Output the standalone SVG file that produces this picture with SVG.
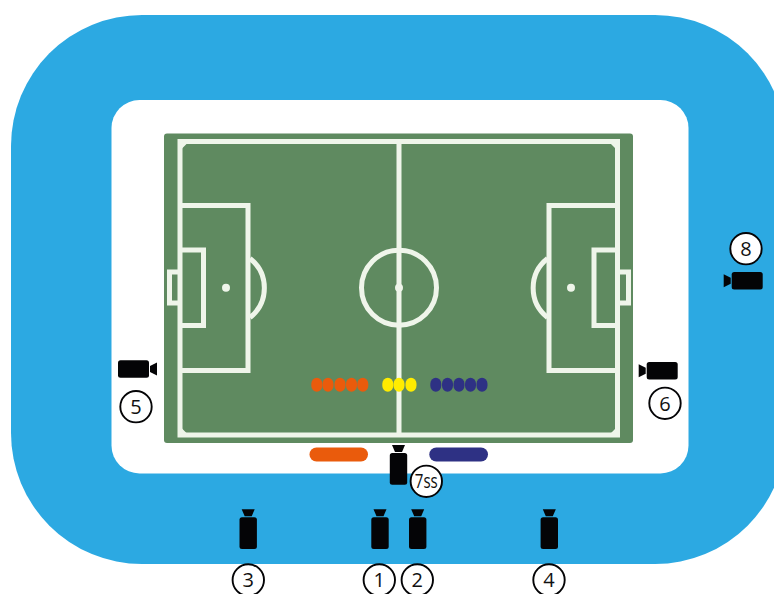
<svg xmlns="http://www.w3.org/2000/svg" xmlns:xlink="http://www.w3.org/1999/xlink" width="774" height="594" viewBox="0 0 774 594">
<style>
.ln{fill:none;stroke:#eff5ea;stroke-width:5}
.sp{fill:#eff5ea}
.bd{fill:#040406}
.c{fill:#fff;stroke:#040406;stroke-width:1.9}
.t{font-family:"Open Sans","Noto Sans",sans-serif;font-size:20px;fill:#111;text-anchor:middle}
.o{fill:#ea5b0c}.y{fill:#ffec00}.n{fill:#2e3184}
</style>
<defs>
<g id="camV"><path class="bd" d="M-6.500-8H6.500L3.500-1H-3.500Z"/><rect class="bd" x="-8.700" y="0" width="17.400" height="31.700" rx="2.500"/></g>
<g id="camL"><path class="bd" d="M-8-6.500V6.500L-1 3V-3Z"/><rect class="bd" x="0" y="-8.700" width="31" height="17.400" rx="2.500"/></g>
<g id="camR"><path class="bd" d="M8-6.500V6.500L1 3V-3Z"/><rect class="bd" x="-31" y="-8.700" width="31" height="17.400" rx="2.500"/></g>
<rect id="dot" x="-5.500" y="-7" width="11" height="14" rx="5.500" ry="6"/>
</defs>
<rect width="774" height="594" fill="#fff"/>
<rect x="11" y="15" width="775" height="549" rx="131" fill="#2ca9e2"/>
<rect x="111.500" y="100" width="577" height="373.500" rx="28" fill="#fff"/>
<g id="pitch">
<rect x="164" y="133.500" width="469" height="309.500" rx="3" fill="#5f8a60"/>
<rect class="ln" x="180" y="141.500" width="437.500" height="293.500"/>
<path class="ln" d="M399 141.500V435"/>
<circle class="ln" cx="399" cy="287.700" r="37.500"/>
<circle class="sp" cx="399" cy="287.700" r="4"/>
<path class="ln" d="M180 205.500H248V370.500H180M180 250H203.500V325.500H180M180 272H169.500V303H180"/>
<path class="ln" d="M250 258.500A37.500 37.500 0 0 1 250 317.500"/>
<circle class="sp" cx="226" cy="287.700" r="4"/>
<path class="ln" d="M617.500 205.500H549V370.500H617.500M617.500 250H594V325.500H617.500M617.500 272H628.500V303H617.500"/>
<path class="ln" d="M547.500 258.500A37.500 37.500 0 0 0 547.500 317.500"/>
<circle class="sp" cx="571" cy="287.700" r="4"/>
<path class="sp" d="M182 143.500H187L182 148.500ZM615.500 143.500H610.500L615.500 148.500ZM182 433.500H187L182 428.500ZM615.500 433.500H610.500L615.500 428.500Z"/>
</g>
<g id="team-orange" class="o">
<use xlink:href="#dot" href="#dot" x="316.800" y="384.700"/><use xlink:href="#dot" href="#dot" x="328" y="384.700"/><use xlink:href="#dot" href="#dot" x="340" y="384.700"/><use xlink:href="#dot" href="#dot" x="351.500" y="384.700"/><use xlink:href="#dot" href="#dot" x="362.800" y="384.700"/>
<rect x="309.500" y="447.500" width="58.500" height="14" rx="7"/>
</g>
<g id="officials" class="y">
<use xlink:href="#dot" href="#dot" x="387.800" y="384.700"/><use xlink:href="#dot" href="#dot" x="399" y="384.700"/><use xlink:href="#dot" href="#dot" x="411" y="384.700"/>
</g>
<g id="team-navy" class="n">
<use xlink:href="#dot" href="#dot" x="435.800" y="384.700"/><use xlink:href="#dot" href="#dot" x="447.500" y="384.700"/><use xlink:href="#dot" href="#dot" x="459" y="384.700"/><use xlink:href="#dot" href="#dot" x="470.500" y="384.700"/><use xlink:href="#dot" href="#dot" x="482" y="384.700"/>
<rect x="429.300" y="447.500" width="58.700" height="14" rx="7"/>
</g>
<g id="cam1"><use xlink:href="#camV" href="#camV" x="380" y="517.300"/><circle class="c" cx="379.300" cy="580" r="15.700"/><text class="t" x="379.300" y="587">1</text></g>
<g id="cam2"><use xlink:href="#camV" href="#camV" x="417.700" y="517.300"/><circle class="c" cx="417.300" cy="580" r="15.700"/><text class="t" x="417.300" y="587">2</text></g>
<g id="cam3"><use xlink:href="#camV" href="#camV" x="248.200" y="517.300"/><circle class="c" cx="248.300" cy="580" r="15.700"/><text class="t" x="248.300" y="587">3</text></g>
<g id="cam4"><use xlink:href="#camV" href="#camV" x="549.300" y="517.300"/><circle class="c" cx="549" cy="580" r="15.700"/><text class="t" x="549" y="587">4</text></g>
<g id="cam5"><use xlink:href="#camR" href="#camR" x="149" y="369"/><circle class="c" cx="136" cy="406.700" r="15.700"/><text class="t" x="136" y="414">5</text></g>
<g id="cam6"><use xlink:href="#camL" href="#camL" x="646.700" y="370.700"/><circle class="c" cx="665" cy="403.300" r="15.700"/><text class="t" x="665" y="410.500">6</text></g>
<g id="cam7ss"><use xlink:href="#camV" href="#camV" x="398.500" y="453"/><circle class="c" cx="426.300" cy="481.300" r="15.700"/><text class="t" x="426.300" y="488" textLength="23" lengthAdjust="spacingAndGlyphs">7ss</text></g>
<g id="cam8"><use xlink:href="#camL" href="#camL" x="731.700" y="280.700"/><circle class="c" cx="746" cy="248.700" r="15.700"/><text class="t" x="746" y="256">8</text></g>
</svg>
